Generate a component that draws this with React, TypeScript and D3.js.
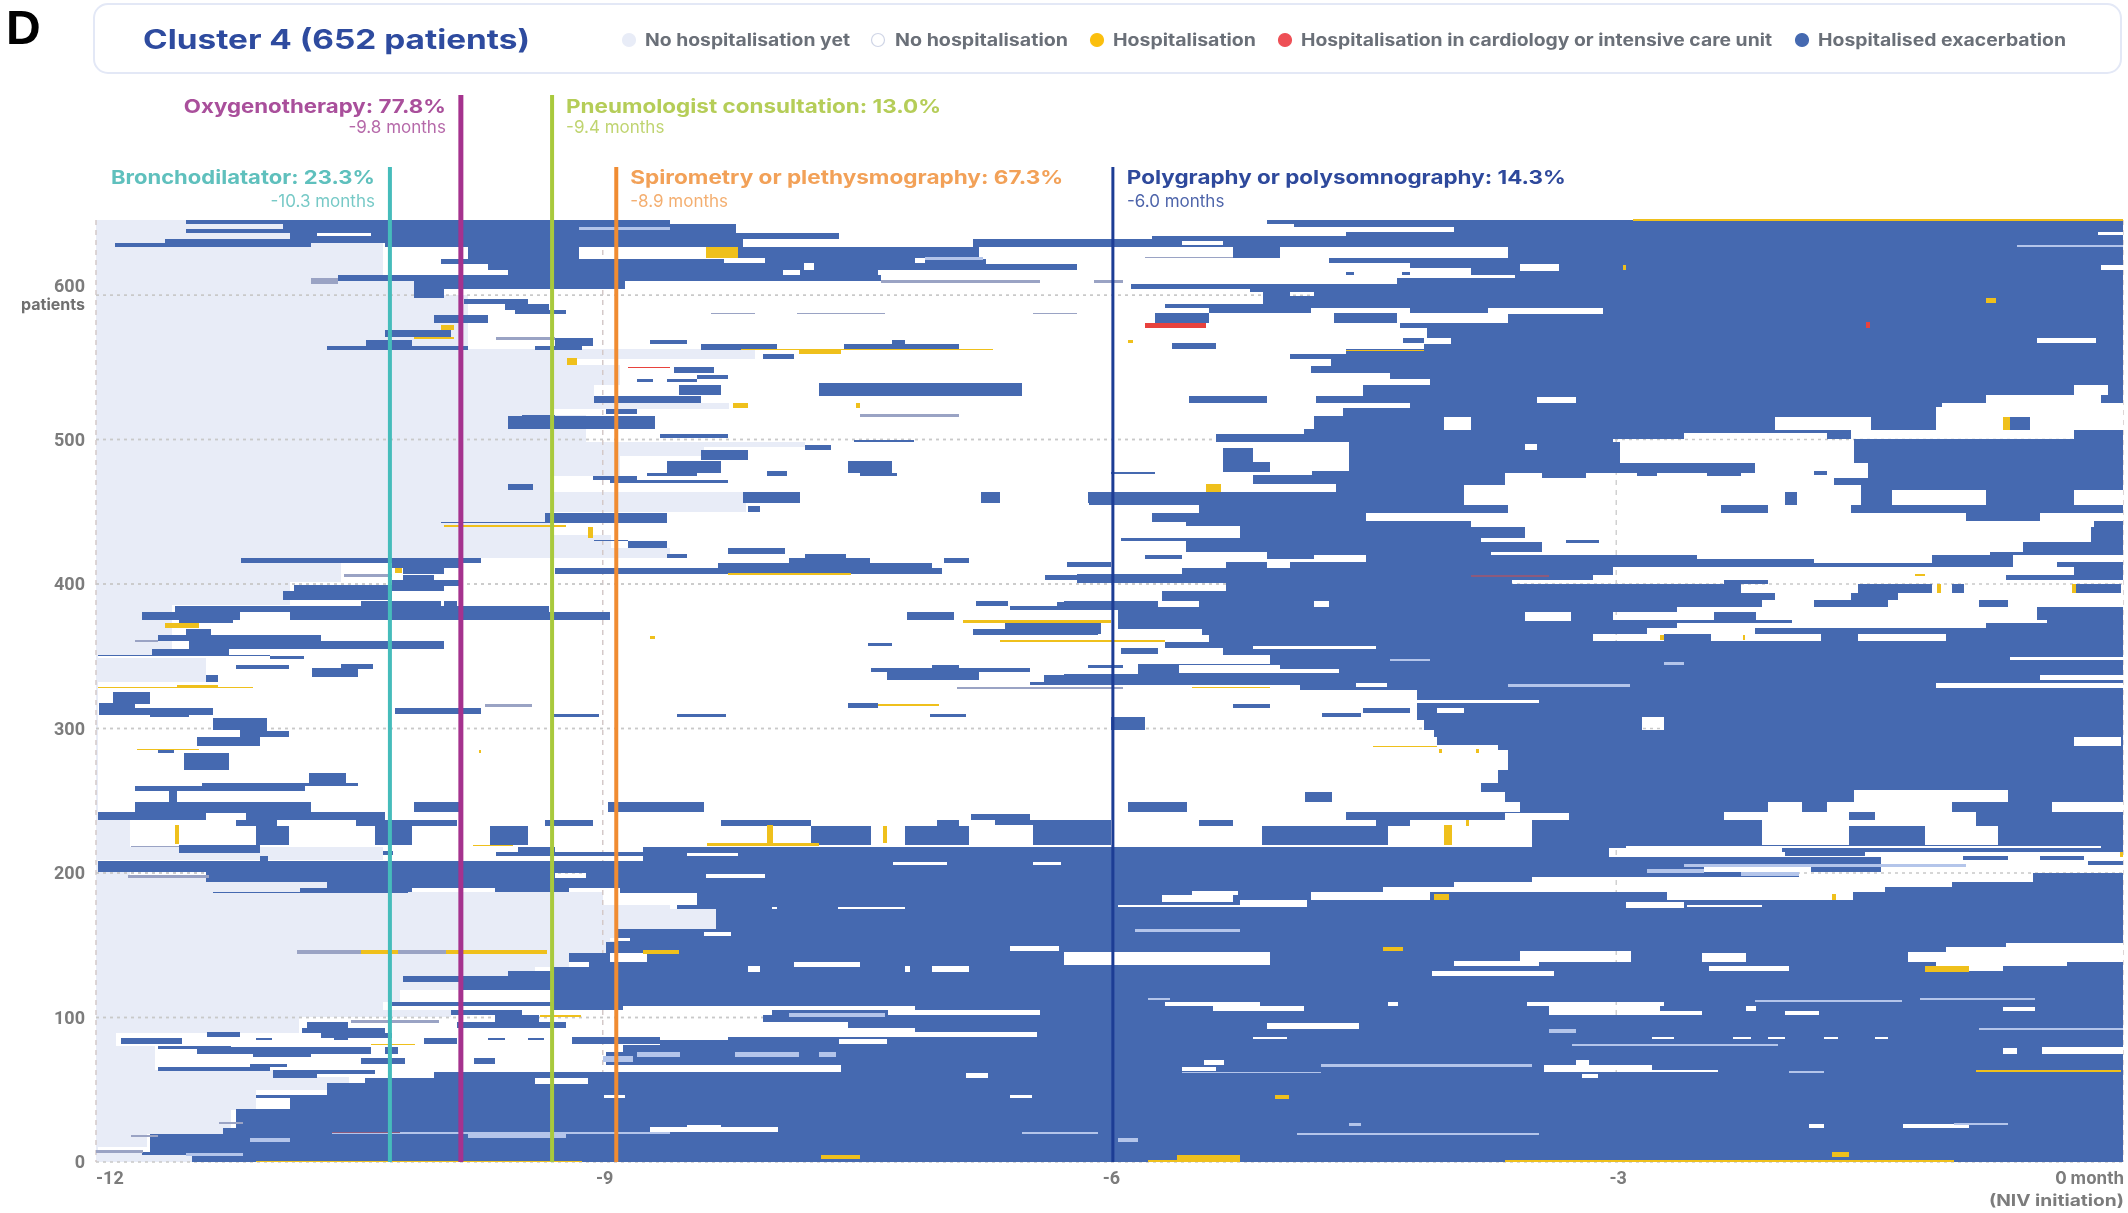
import React from "react";
import * as d3 from "d3";

// [row at top of band, month where the exacerbation block starts]; each band runs to month 0 and down to next band
const mainBands: number[][] = [
[652,-5.07],[649,-4.91],[647,-3.96],[644,-4.60],[641,-5.75],[639,-6.19],[633,-3.64],[626,-4.70],[622,-4.22],[618.5,-3.86],[614,-3.60],[612,-4.30],[608,-5.87],[604,-5.17],[602,-5.09],[594,-5.67],[591,-3.08],[587,-3.64],[580.5,-4.28],[577,-4.12],[570,-3.98],[566.5,-4.14],[562.5,-4.60],[559,-4.93],[556,-4.69],[551,-4.81],[546,-4.34],[542,-4.10],[538,-4.50],[530,-4.78],[525,-4.22],[522,-4.62],[516,-4.79],[507,-4.85],[504,-5.37],[498,-4.58],[478,-4.80],[475.5,-5.15],[469,-4.66],[464,-6.12],[455,-5.47],[449,-5.75],[443,-5.55],[440,-5.23],[432,-5.93],[430,-5.55],[422.5,-5.07],[420,-4.48],[415,-4.93],[411,-5.57],[407,-6.19],[400.5,-5.31],[395,-5.69],[388,-5.47],[384,-5.95],[369,-5.45],[365,-5.41],[360,-5.67],[355.5,-5.33],[351,-5.05],[345,-5.83],[338,-6.27],[330,-4.87],[326.5,-4.18],[320,-3.46],[317.5,-4.18],[306,-4.14],[299,-4.08],[294,-4.06],[288.5,-3.70],[285,-3.64],[271,-3.70],[262,-3.80],[256,-3.66],[249,-3.57],[242,-4.60],[237,-3.50],[219.5,-3.50],[218,-8.76],[208,-11.99],[201,-11.35],[194,-10.63],[189.5,-8.90],[186,-8.44],[178,-8.56],[175,-8.33],[161,-8.92],[152.5,-8.98],[144.5,-9.20],[138.5,-9.08],[135,-9.30],[132.5,-9.56],[128.7,-10.18],[124.7,-9.84],[119,-9.30],[111,-10.25],[108,-9.30],[105,-8.00],[101.7,-8.05],[97,-7.55],[92.5,-7.15],[90,-6.43],[86.7,-8.26],[84.4,-8.66],[81,-8.88],[76.3,-8.98],[67,-7.59],[62.5,-10.0],[58,-10.41],[54.4,-10.63],[46.3,-11.05],[44,-10.85],[37,-11.17],[23.2,-11.25],[19.7,-11.68],[7.2,-11.73],[5,-11.43],
];

// [rowTop, rowBottom, monthStart, monthEnd]
const exacerbationLeft: number[][] = [
[652,649,-11.47,-8.60],[649,646,-10.89,-8.21],[646,643,-11.47,-8.21],[643,639,-10.85,-7.60],[639,636,-11.59,-8.17],[636,633,-11.89,-10.73],[636,633,-10.29,-8.17],
[633,625,-9.80,-9.14],[633,625,-8.20,-6.77],[625,621.5,-9.96,-6.73],[621.5,617.5,-9.68,-6.19],[617.5,614,-9.56,-7.37],[614,610,-10.57,-7.35],[610,604,-10.12,-8.87],[604,598,-10.12,-9.94],
[639,633,-6.81,-5.92],[597,594,-9.82,-9.44],[594,590,-9.58,-9.32],[590,587,-9.52,-9.22],[586,580.5,-10.0,-9.68],[576,571,-10.29,-9.90],[569,565,-10.40,-10.13],[565,562,-10.63,-9.80],[570,565,-9.28,-9.06],[565,562,-9.40,-9.12],[569,566,-8.72,-8.50],[566,562,-8.42,-7.97],[566,562,-7.57,-6.89],[569,566,-7.29,-7.21],[559,556,-8.05,-7.87],[550,546,-8.58,-8.34],[545,542,-8.44,-8.26],[542,540,-8.62,-8.44],[542,540,-8.80,-8.70],[538,531,-8.55,-8.30],[539,530,-7.72,-6.52],[530,525,-9.05,-8.42],[521,518,-8.98,-8.80],[516,507,-9.56,-8.69],[517,516,-9.48,-9.28],[504,501,-8.66,-8.26],[500,498,-7.51,-7.16],[496,493,-7.80,-7.65],[493,486,-8.42,-8.14],[485,477,-8.62,-8.30],[477,475,-8.74,-8.44],[485,477,-7.55,-7.29],[477,475,-7.48,-7.26],[478,475,-8.03,-7.91],[475,472,-9.06,-8.80],[472,470,-8.96,-8.26],[469,465,-9.56,-9.41],[464,456,-8.17,-7.83],[464,456,-6.76,-6.65],[464,456,-6.13,-5.92],[454,450,-8.14,-8.07],[449,442,-9.34,-8.62],[443,442,-9.96,-9.34],[430,425,-8.85,-8.62],[430.5,429.5,-9.05,-8.85],[425,421,-8.26,-7.92],[420.5,418,-8.62,-8.50],[420.5,418,-7.80,-7.56],[418,414.5,-11.14,-9.72],[418,414.5,-7.90,-7.42],[418,414.5,-6.98,-6.83],[414.5,411,-10.25,-9.85],[414.5,411,-8.32,-7.05],[411,407,-10.18,-9.94],[411,407,-9.28,-6.99],[406,403,-10.18,-10.0],[403,399,-10.25,-9.85],[399.5,395,-10.83,-9.94],[395,389,-10.89,-10.25],[388,384.5,-10.43,-9.96],[388,384.5,-9.94,-9.86],[384.5,381,-11.53,-9.32],[381,375,-11.73,-11.15],[381,375,-10.85,-8.96],[375,373,-11.51,-11.19],
[415,412,-6.25,-6.0],[406,403,-6.38,-5.92],[403,401,-6.19,-5.92],[388,385,-6.79,-6.60],[387.5,382,-6.31,-5.92],[385,382,-6.59,-6.31],[381,375,-7.20,-6.92],[373,369,-6.62,-6.07],[369,365,-6.81,-6.07],[369,365,-11.47,-11.32],[365,360.5,-11.63,-10.67],[360.5,355,-11.45,-9.94],[355,351,-11.67,-11.21],[351,350,-11.99,-10.97],[350,348,-10.97,-10.77],[345,341,-10.55,-10.36],[344,341,-11.17,-10.86],[342,336,-10.72,-10.45],[337,332,-11.35,-11.28],[359,357,-7.43,-7.29],[342,339,-7.41,-6.47],[344,342,-7.05,-6.89],[339,333.5,-7.32,-6.77],[337,332,-6.39,-5.92],[332,330,-6.47,-5.92],[344,342,-6.13,-5.92],[325.5,317,-11.90,-11.68],[317.5,314,-11.98,-11.77],[314,309.5,-11.98,-11.31],[314,310,-10.23,-9.72],[317.5,314.5,-7.55,-7.37],
[311,308,-11.68,-11.45],[310,308,-9.30,-9.02],[310,308,-8.56,-8.27],[310,308,-7.06,-6.85],[307,299,-11.31,-10.99],[299,294,-11.15,-10.99],[298,294,-10.99,-10.86],[294,288,-11.40,-11.03],[285.5,283,-11.63,-11.54],[283,271,-11.48,-11.21],[269,262,-10.74,-10.52],[262.5,260,-11.37,-10.45],[260,257,-11.77,-10.76],[257,249,-11.57,-11.52],[249,242.5,-11.77,-10.73],[249,242.5,-10.12,-9.84],[249,242.5,-8.97,-8.40],[242.5,237,-11.99,-10.29],[237,232.5,-11.17,-10.93],[237,232.5,-10.46,-9.86],[237,232.5,-9.34,-9.06],[237,232.5,-8.30,-7.77],[232.5,219.5,-11.05,-10.86],[232.5,219.5,-10.35,-10.13],[232.5,219.5,-9.67,-9.44],[232.5,219.5,-7.77,-7.41],[232.5,219.5,-7.21,-6.83],[237,232.5,-7.02,-6.89],[241,237,-6.82,-6.47],[237,233,-6.68,-6.45],[237,219.5,-6.45,-5.99],[219.5,214,-11.51,-11.03],[214.5,212,-9.63,-8.74],[218,214.5,-9.5,-9.28],[215,212.5,-10.3,-10.24],[212,208,-11.03,-10.98],[189.5,187,-10.79,-10.13],[189.5,187,-9.64,-9.20],[187,186,-11.31,-10.15],[105,101.7,-9.90,-9.48],[101.7,97,-9.64,-9.38],[97,92.5,-9.86,-9.22],[86.2,82,-9.18,-8.66],[97,92.5,-10.75,-10.51],[92.5,89,-10.78,-10.29],[89,86,-10.67,-10.25],[90,86.7,-11.34,-11.15],[86,82,-11.85,-11.49],[86,82,-10.06,-9.86],[86,84.5,-9.68,-9.58],[86,84.5,-9.44,-9.35],[86,84.5,-11.05,-10.96],[86,84.5,-10.59,-10.51],[80.5,78,-11.63,-11.2],[79.7,75,-11.4,-10.37],[75.6,73,-11.07,-10.73],[79.7,75,-10.29,-10.21],[71.7,68,-10.43,-10.17],[71.7,68,-9.76,-9.64],[68,66,-11.09,-10.87],[66,63,-11.63,-10.97],[63.5,61,-10.95,-10.35],[61.7,58,-10.95,-10.69],
];

const exacerbationIslands: number[][] = [
[633,626,-5.27,-4.99],[591,587.3,-5.41,-4.81],[591,587.3,-4.22,-3.76],[587.3,580.4,-5.73,-5.41],[587.3,580.4,-4.67,-4.30],[570,566.6,-4.26,-4.14],[566.6,562.4,-5.63,-5.37],[530,525,-5.53,-5.07],[493.9,477.8,-5.33,-5.15],[484.7,477.8,-5.15,-5.05],[477.8,476,-5.99,-5.73],[420,417.3,-5.79,-5.57],[420,417.3,-5.07,-4.79],[415,411,-5.31,-5.07],[415.4,412,-6.25,-5.99],[388,384,-6.27,-5.71],[372.8,365.2,-6.27,-6.05],[355.5,351.3,-5.93,-5.71],[616,614,-4.6,-4.55],[616,614,-4.27,-4.22],
[232.5,219.5,-5.10,-4.35],[237,232.5,-4.42,-4.22],[236.5,232.5,-5.47,-5.27],[249,242.5,-5.89,-5.54],[256,249,-4.84,-4.68],[317,314.5,-5.27,-5.05],[310.5,307.7,-4.74,-4.51],[314,310.5,-4.50,-4.22],[308,299,-5.99,-5.79],
];

// [rowTop, rowBottom, monthStart, monthEnd] : no hospitalisation cut out of the blocks
const noHospitalisation: number[][] = [
[637.4,634.6,-5.57,-5.33],[601.9,599.3,-4.93,-4.79],[621.3,616.6,-3.57,-3.34],[635,633,-0.63,0],[570,566.6,-0.51,-0.16],[529.7,525,-3.47,-3.24],[515.8,506.6,-4.02,-3.86],[496.7,492.8,-3.54,-3.47],[644,641.6,-0.15,0],[620.8,617.3,-0.13,0],[537.7,530.8,-0.29,-0.09],[530.8,525,-0.81,-0.13],[525,522.7,-1.07,0],[522.7,515.8,-1.11,0],[515.8,506.6,-2.06,-1.49],[515.8,506.6,-1.11,-0.67],[515.8,506.6,-0.55,0],[506.6,504.3,-1.61,-0.29],[504.3,500.4,-2.6,-1.75],[504.3,500.4,-1.61,-0.29],[500.4,498,-3.02,-1.59],[498,483.5,-2.98,-1.59],[483.5,473.2,-2.18,-1.51],[476.6,473.2,-3.66,-3.44],[476.6,473.2,-3.18,-1.71],[473.2,468.5,-3.66,-1.71],[468.5,464,-3.90,-1.55],[464,454.7,-3.90,-1.55],[465,454.7,-1.37,-0.81],[465,454.7,-0.29,0],[454.7,449,-3.64,-1.61],[449,443.8,-4.48,-0.93],[449,443.8,-0.49,0],[443.8,439.7,-3.86,-0.17],[439.7,431.6,-3.54,-0.19],[431.6,429.3,-3.80,-0.19],[429.3,422.4,-3.44,-0.59],[422.4,420,-3.74,-0.79],[420,417.3,-2.68,-1.13],[417.3,414.3,-1.83,-1.13],[420,415.5,-0.65,0],[415.5,411.3,-0.65,-0.39],[412,406.2,-3.02,-0.29],[406.2,402.8,-3.14,-0.69],[402.8,399.8,-3.62,-2.36],[402.8,399.8,-2.1,0],[399.8,394,-2.26,-1.57],[399.8,394,-1.13,0],[394,389,-2.06,-1.61],[394,389,-1.33,0],[389,384.3,-2.14,-1.83],[389,384.3,-1.39,-0.85],[389,384.3,-0.68,0],[384.3,380.9,-2.64,-0.51],[380.9,375,-3.02,-2.42],[380.9,375,-2.17,-0.51],[380.9,374.3,-3.54,-3.27],[375,372.8,-1.96,-0.45],[372.8,369.3,-2.64,-0.81],[369.3,365.2,-2.82,-2.18],[365.2,360.6,-3.14,-2.72],[365.2,360.6,-2.44,-1.79],[365.2,360.6,-1.57,-1.05],[388,384,-4.79,-4.70],[357.3,354.8,-5.15,-4.42],[349.7,347.4,-0.67,0],[344,341.2,-5.59,-4.99],[341.2,338.2,-5.59,-4.64],[337,333.6,-0.49,0],[331.3,328.3,-1.11,0],[331.3,329,-4.54,-4.36],
[314,310.5,-4.06,-3.90],[308,299,-2.85,-2.72],[294,288,-0.29,-0.01],[257.4,249.4,-1.59,-0.68],[249.4,242.4,-2.10,-1.90],[249.4,242.4,-1.75,-1.01],[249.4,242.4,-0.42,0],[242.4,237,-2.36,-1.62],[242.4,237,-1.47,-0.87],[237,232.5,-2.14,-0.87],[232.5,219.5,-2.14,-1.62],[232.5,219.5,-1.17,-0.74],[241.3,237,-3.66,-3.28],
[218.9,217,-2.94,-0.13],[217,211.3,-3.04,-2.02],[214.7,211.3,-2.02,0],[211.3,199.7,-1.43,0],[203.9,200.7,-2.48,-1.85],[200.7,197.4,-1.92,-1.43],[199.7,196.3,-1.43,-0.53],[197.4,194,-3.5,-0.53],[194,190.5,-3.96,-1.01],[190.5,187,-4.38,-1.41],[187,181.3,-4.81,-4.10],[187,181.3,-2.7,-1.6],[187.5,184.7,-5.51,-5.24],[184.7,180,-5.69,-5.27],[181.3,176.7,-5.23,-4.83],[180,176,-2.94,-2.6],[178,176.7,-2.58,-2.14],[178,176.7,-5.95,-5.23],
[146,138.6,-3.57,-2.91],[139.3,135.6,-3.96,-3.46],[132.4,128.7,-4.09,-3.37],[144.4,138.6,-2.49,-2.23],[135.8,132.1,-2.45,-1.98],[145.5,138.6,-1.27,0],[151.3,145.5,-0.69,0],[149,145.5,-1.05,-0.69],[138.6,132.4,-1.11,-0.71],[138.6,135.8,-0.71,-0.33],[145.5,136.3,-6.27,-5.05],[111,108,-5.67,-5.11],[108,104.7,-5.39,-4.85],[111,108,-4.35,-4.29],[111,108,-3.53,-2.72],[108,104.7,-3.40,-2.74],[104.7,101.7,-3.40,-2.49],[108,104.7,-2.23,-2.17],[104.7,101.7,-2.0,-1.80],[107.5,104.7,-0.71,-0.52],[96.4,92.4,-5.07,-4.52],[86.7,84.8,-5.15,-4.95],[86.7,84.8,-2.79,-2.66],[86.7,84.8,-2.31,-2.20],[86.7,84.8,-2.10,-2.0],[86.7,84.8,-1.77,-1.69],[86.7,84.8,-1.47,-1.39],[78.6,75,-0.71,-0.63],[79.8,75,-0.48,0],[70.5,67,-5.44,-5.32],[66,63.2,-5.57,-5.37],[67,62.5,-3.43,-2.79],[70.5,67,-3.24,-3.16],[63.6,62,-2.79,-2.40],[60.9,58,-3.2,-3.11],[26.2,23.3,-1.86,-1.77],[26.2,23.3,-1.30,-0.91],
[642.7,641,-10.69,-10.37],[625.4,622,-8.28,-8.04],[625.4,622,-7.15,-7.09],[617.5,614,-7.93,-7.83],[622,617.5,-7.81,-7.75],
[207.3,205.5,-7.28,-6.96],[207.3,205.5,-6.45,-6.29],[199.7,196.3,-9.28,-9.10],[199.3,196.3,-8.39,-8.04],[176.7,175.3,-7.61,-7.21],[176.7,175.3,-8.0,-7.97],[159.4,156.4,-8.40,-8.24],[154.7,153,-8.96,-8.84],[138.6,135,-7.87,-7.48],[135.8,131.7,-8.14,-8.07],[135.8,131.7,-7.21,-7.18],[135.8,131.7,-7.05,-6.83],[149.4,146,-6.59,-6.30],[144.5,138.5,-8.96,-8.74],[84.8,82,-7.60,-7.32],[61.3,58,-6.85,-6.72],[46.3,44,-8.99,-8.87],[46.3,44,-6.59,-6.46],[58,54,-9.40,-9.09],[25.6,22,-8.50,-8.30],[24.4,21,-8.72,-7.96],[241.3,237,-11.35,-11.11],[105,101.7,-7.31,-6.41],[108,105,-8.88,-7.15],[214,211.5,-8.5,-8.2],
];

// Islands of blue that sit back on top of the white clouds
const exacerbationOverClouds: number[][] = [
[430.4,428.1,-3.30,-3.10],[420,417.6,-2.68,-2.52],[414.3,412,-2.68,-1.83],[464,454.7,-2.0,-1.93],[454.7,449,-2.38,-2.1],[399.8,394,-1.01,-0.94],[399.8,394,-0.29,-0.01],[478,475.2,-1.83,-1.75],[476.6,475,-2.88,-2.76],[476.6,475,-2.46,-2.26],[211.8,209,-0.95,-0.68],[211.8,209,-0.49,-0.23],[208,205.7,-0.21,0],[199.3,195,-0.53,0],[214.7,211.7,-2.0,-1.53],[236.6,233,-0.87,-0.59],
];

// Thin pale-blue slivers and grey-blue traces
const paleSlivers: number[][] = [
[635,633,-0.63,0],[206.6,204,-2.6,-0.93],[200.9,197.9,-2.26,-1.92],[202.5,199.7,-2.82,-2.48],[161.6,158.9,-5.85,-5.23],[113.7,112,-5.77,-5.64],[112,110.7,-2.18,-1.31],[113.2,112,-1.2,-0.52],[92,89.5,-3.40,-3.24],[81.6,80.2,-3.26,-2.04],[93,91.3,-0.85,0],[62.5,61.3,-5.57,-4.75],[67.8,65.5,-4.75,-3.50],[63.2,61.3,-1.98,-1.77],[26.7,24.9,-4.58,-4.51],[20.2,18.6,-4.89,-3.46],[27.2,25.6,-1.0,-0.68],[16.3,14,-5.95,-5.83],[76.3,73,-8.80,-8.54],[76.3,73,-8.22,-7.84],[76.3,73,-7.72,-7.62],[73.3,69.4,-9.0,-8.82],[21,19.7,-10.6,-8.6],[19.7,16.3,-9.80,-9.22],[16.3,14,-11.09,-10.85],[6.4,4.1,-11.47,-11.13],[21,19.7,-6.52,-6.07],[348,346.5,-4.34,-4.10],[346,344,-2.72,-2.6],[330.5,329,-3.64,-2.92],[626.6,624.3,-7.09,-6.75],[647,645,-9.14,-8.6],[103.3,100.5,-7.9,-7.33],
];
const greyTraces: number[][] = [
[587.3,586.6,-8.36,-8.1],[587.3,586.6,-7.85,-7.33],[587.3,586.6,-6.45,-6.19],[570.7,568.9,-9.63,-9.28],[611.6,608,-10.73,-10.57],[610.4,608.6,-7.35,-6.41],[610.4,608.6,-6.09,-5.92],[517.4,515.6,-7.48,-6.89],[406.7,405.1,-10.53,-10.25],[361.2,360,-11.77,-11.63],[317,315,-9.70,-9.42],[98.2,96.4,-10.49,-9.97],[218.7,217.7,-11.79,-11.51],[198.6,196.3,-11.81,-11.33],[18.6,17.5,-11.79,-11.63],[27.9,26.2,-11.27,-11.13],[8.2,6.4,-12,-11.72],[626.6,625.4,-5.79,-5.27],[146.7,144,-10.81,-10.43],[146.7,144,-10.21,-9.93],[329,327.5,-6.9,-5.92],
];

const hospitalisation: number[][] = [
[633,625.4,-8.39,-8.20],[579.3,575.8,-9.96,-9.88],[571,569.5,-10.12,-9.88],[563,561.8,-8.18,-6.69],[562.6,559,-7.84,-7.59],[556.2,551.6,-9.21,-9.15],[525,521.6,-8.23,-8.14],[525,521.6,-7.5,-7.48],[440.8,439.6,-9.94,-9.22],[439.6,431.6,-9.09,-9.06],[410.9,407.4,-10.23,-10.19],[407.4,406.2,-8.26,-7.53],[375,372.8,-6.87,-5.99],[372.8,369.3,-11.59,-11.39],[364,362,-8.72,-8.69],[361,360,-6.65,-5.67],[329,328,-11.99,-11.07],[330,328,-11.52,-11.28],[316.7,315.8,-7.37,-7.01],[469,464,-5.43,-5.34],[515.8,506.6,-0.71,-0.67],[620.8,617.3,-2.96,-2.94],[597.7,594.3,-0.81,-0.75],[400.4,393.5,-1.10,-1.08],[400.4,393.5,-0.30,-0.28],[406.7,405.8,-1.23,-1.17],[364.6,361.3,-2.74,-2.72],[364.6,361.3,-2.25,-2.24],[329,328,-5.51,-5.05],[562,561.2,-4.6,-4.14],[568.8,567.2,-5.89,-5.86],[652.8,651.6,-2.9,0],[287.9,286.9,-4.44,-4.06],[286.2,282.8,-4.05,-4.03],[286.2,282.8,-3.83,-3.81],[233,219.5,-4.02,-3.97],[236.7,232.5,-3.89,-3.87],[185.2,181.3,-4.08,-3.99],[185.2,181.3,-1.72,-1.70],[214.7,211.3,-0.02,0],[149,146,-4.38,-4.26],[135.8,131.7,-1.17,-0.91],[46.3,43.6,-5.02,-4.94],[63.6,62.5,-0.87,-0.01],[7,3.6,-1.72,-1.62],[1.1,0,-5.77,-5.23],[1.1,0,-3.66,-1],[4.8,0.2,-5.6,-5.23],[233.2,220,-11.53,-11.51],[233.2,219.5,-8.03,-7.99],[232.5,220.5,-7.34,-7.32],[220.5,218.9,-8.38,-7.72],[219.5,218.5,-9.77,-9.53],[146.7,144,-10.43,-10.21],[146.7,144,-9.93,-9.33],[146.7,144,-8.76,-8.55],[82,81,-10.37,-10.11],[101.7,100.5,-9.37,-9.13],[286.2,285.1,-11.76,-11.39],[285.1,282.8,-9.73,-9.72],[4.8,1.8,-7.71,-7.48],[0.8,0,-11.05,-9.12],
];
const cardiology: number[][] = [
[580.4,577.4,-5.79,-5.43],[550.4,549.3,-8.85,-8.6],[581.6,577,-1.52,-1.50],
];
const cardiologyFaint: number[][] = [
[406.3,405.1,-3.86,-3.4],[21,20,-10.6,-10.2],
];

// [row at top of band, month where "no hospitalisation yet" stops]
const notYetBands: number[][] = [
[652,-10.3],[611.6,-10.1],[600,-9.8],[563,-8.1],[556,-9.15],[551.6,-8.9],[537.7,-9.05],[525,-8.25],[521,-9.3],[517,-9.1],[498.5,-7.8],[495,-8.4],[489,-8.9],[475,-9.3],[464,-8.15],[450,-9.3],[434,-8.95],[424.7,-8.6],[417.8,-10.55],[401.6,-10.85],[385.4,-11.55],[351,-11.99],[348.5,-11.35],[332.4,-11.99],[237,-11.8],[218,-10.3],[209,-11.99],[201,-11.8],[197.5,-11.3],[194,-10.63],[189.5,-10.2],[187,-9.0],[178,-8.6],[175,-8.3],[161,-8.9],[144.5,-9.2],[135,-9.4],[128,-9.8],[119,-10.2],[111,-10.3],[105,-9.9],[100.5,-10.8],[89,-11.88],[80,-11.65],[66,-11.65],[63.6,-10.9],[59,-10.5],[50,-11.05],[36,-11.2],[19.7,-11.7],[10.5,-11.99],[6.4,-11.4],
];

const rowTicks = [0, 100, 200, 300, 400, 500, 600];
const monthTicks = [-12, -9, -6, -3];
const legendItems = [
  { label: "No hospitalisation yet", dot: "#e8ecf7", ring: "#e8ecf7", cx: 629, start: 645, end: 850 },
  { label: "No hospitalisation", dot: "#ffffff", ring: "#cfd5e6", cx: 878, start: 895, end: 1068 },
  { label: "Hospitalisation", dot: "#fbbf10", ring: "#fbbf10", cx: 1097, start: 1113, end: 1256 },
  { label: "Hospitalisation in cardiology or intensive care unit", dot: "#ee4f55", ring: "#ee4f55", cx: 1285, start: 1301, end: 1772 },
  { label: "Hospitalised exacerbation", dot: "#4469b0", ring: "#4469b0", cx: 1802, start: 1818, end: 2066 },
];
const treatments = [
  { name: "Oxygenotherapy: 77.8%", sub: "-9.8 months", month: -9.84, color: "#a5318e", text: "#a94f9b", level: 0, side: "left", w: 262, width: 5 },
  { name: "Pneumologist consultation: 13.0%", sub: "-9.4 months", month: -9.3, color: "#a9c93c", text: "#b5cd58", level: 0, side: "right", w: 375, width: 4 },
  { name: "Bronchodilatator: 23.3%", sub: "-10.3 months", month: -10.26, color: "#45bcbb", text: "#5fc0bd", level: 1, side: "left", w: 264, width: 4 },
  { name: "Spirometry or plethysmography: 67.3%", sub: "-8.9 months", month: -8.92, color: "#f08c33", text: "#f2a158", level: 1, side: "right", w: 433, width: 4 },
  { name: "Polygraphy or polysomnography: 14.3%", sub: "-6.0 months", month: -5.98, color: "#1f3c95", text: "#2f4a9c", level: 1, side: "right", w: 439, width: 3 },
];

const BLUE = "#4469b0";
const sans = "Inter, 'Open Sans', sans-serif";

export default function App() {
  const x = d3.scaleLinear().domain([-12, 0]).range([96, 2123]).clamp(true);
  const y = d3.scaleLinear().domain([0, 652]).range([1162, 220]);
  const sx = (v: number) => Math.round(x(v));
  const sy = (v: number) => Math.round(y(v));

  const rects = (list: number[][], fill: string, key: string) =>
    list.map((d, i) => (
      <rect key={key + i} x={sx(d[2])} y={sy(d[0])} width={Math.max(1, sx(d[3]) - sx(d[2]))} height={Math.max(1, sy(d[1]) - sy(d[0]))} fill={fill} shapeRendering="crispEdges" />
    ));
  const bandRows = (list: number[][], key: string, fill: string, toEnd: boolean) =>
    list.map((d, i) => {
      const next = i + 1 < list.length ? list[i + 1][0] : 0;
      const x0 = toEnd ? sx(d[1]) : sx(-12);
      const x1 = toEnd ? sx(0) : sx(d[1]);
      return <rect key={key + i} x={x0} y={sy(d[0])} width={Math.max(0, x1 - x0)} height={Math.max(1, sy(next) - sy(d[0]))} fill={fill} shapeRendering="crispEdges" />;
    });

  return (
    <svg width={2128} height={1213} style={{ position: "absolute", left: 0, top: 0, background: "#fff" }} fontFamily={sans}>
      <defs>
        <filter id="soft" x="0" y="0" width="100%" height="100%">
          <feGaussianBlur stdDeviation="0.7" />
        </filter>
      </defs>
      <g filter="url(#soft)">
        <rect width={2128} height={1213} fill="#fff" />
        <text x={6} y={44} fontFamily="'Liberation Sans', Arial" fontWeight="700" fontSize={48} fill="#000">D</text>

        <rect x={94} y={4} width={2027} height={69} rx={14} fill="#fff" stroke="#e3e8f6" strokeWidth={2} />
        <text x={143} y={49} fontSize={27} fontWeight={700} fill="#2f4c9f" textLength={387} lengthAdjust="spacingAndGlyphs">Cluster 4 (652 patients)</text>
        {legendItems.map((l) => (
          <g key={l.label}>
            <circle cx={l.cx} cy={40} r={6.5} fill={l.dot} stroke={l.ring} strokeWidth={1.2} />
            <text x={l.start} y={46} fontSize={17} fontWeight={700} fill="#6b6f78" textLength={l.end - l.start} lengthAdjust="spacingAndGlyphs">{l.label}</text>
          </g>
        ))}

        {bandRows(notYetBands, "ny", "#e8ecf7", false)}

        {rowTicks.map((t) => (
          <line key={"gy" + t} x1={96} x2={2123} y1={y(t)} y2={y(t)} stroke="#c9c9c9" strokeWidth={1.5} strokeDasharray="3 4" />
        ))}
        {[-12, -9, -3, 0].map((t) => (
          <line key={"gx" + t} x1={x(t)} x2={x(t)} y1={y(652)} y2={y(0)} stroke="#d4c9c9" strokeWidth={1.5} strokeDasharray="5 5" />
        ))}

        {bandRows(mainBands, "mb", BLUE, true)}
        {rects(exacerbationLeft, BLUE, "el")}
        {rects(exacerbationIslands, BLUE, "ei")}
        {rects(noHospitalisation, "#ffffff", "nh")}
        {rowTicks.slice(1).map((t) => (
          <line key={"gy2" + t} x1={96} x2={2123} y1={y(t)} y2={y(t)} stroke="#c9c9c9" strokeWidth={1.5} strokeDasharray="3 4" style={{ mixBlendMode: "darken" }} />
        ))}
        <line x1={x(-3)} x2={x(-3)} y1={y(652)} y2={y(0)} stroke="#d0d0d0" strokeWidth={1.5} strokeDasharray="5 5" style={{ mixBlendMode: "darken" }} />
        {rects(exacerbationOverClouds, BLUE, "eo")}
        {rects(paleSlivers, "#b4c5ea", "ps")}
        {rects(greyTraces, "#9aa3c4", "gt")}
        {rects(hospitalisation, "#efc01a", "ho")}
        {rects(cardiology, "#e8423c", "ca")}
        {rects(cardiologyFaint, "#8d5a7c", "cf")}

        {treatments.map((t) => {
          const px = x(t.month);
          const top = t.level === 0 ? 95 : 167;
          const nameY = t.level === 0 ? 113 : 184;
          const subY = t.level === 0 ? 133 : 207;
          const left = t.side === "left";
          const tx = left ? px - 15 : px + 14;
          return (
            <g key={t.name}>
              <line x1={px} x2={px} y1={top} y2={y(0)} stroke={t.color} strokeWidth={t.width} />
              <text x={tx} y={nameY} textAnchor={left ? "end" : "start"} fontSize={19} fontWeight={700} fill={t.text} textLength={t.w} lengthAdjust="spacingAndGlyphs">{t.name}</text>
              <text x={tx} y={subY} textAnchor={left ? "end" : "start"} fontSize={17} fill={t.text} opacity={0.85}>{t.sub}</text>
            </g>
          );
        })}

        {rowTicks.map((t) => (
          <text key={"ty" + t} x={85} y={y(t) + (t === 600 ? -3 : 6)} textAnchor="end" fontFamily="Roboto, sans-serif" fontSize={18} fontWeight={700} fill="#7b7b7b">{t}</text>
        ))}
        <text x={85} y={310} textAnchor="end" fontSize={16} fontWeight={700} fill="#6f6f6f">patients</text>
        {monthTicks.map((t) => (
          <text key={"tx" + t} x={t === -12 ? 96 : x(t) + 2} y={1184} textAnchor={t === -12 ? "start" : "middle"} fontFamily="Roboto, sans-serif" fontSize={18} fontWeight={700} fill="#7b7b7b">{t}</text>
        ))}
        <text x={2124} y={1184} textAnchor="end" fontSize={17} fontWeight={700} fill="#7b7b7b">0 month</text>
        <text x={2124} y={1206} textAnchor="end" fontSize={16} fontWeight={700} fill="#7b7b7b" textLength={135} lengthAdjust="spacingAndGlyphs">(NIV initiation)</text>
      </g>
    </svg>
  );
}
